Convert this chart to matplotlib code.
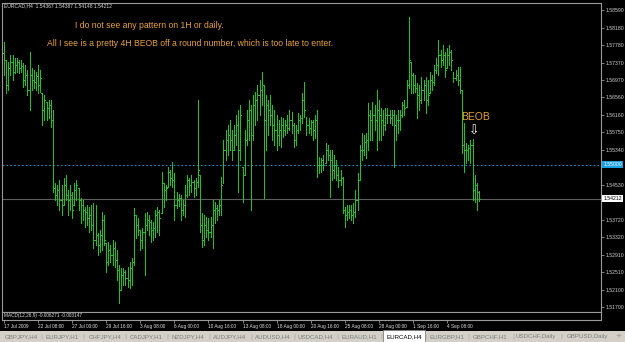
import numpy as np
import matplotlib.pyplot as plt
from matplotlib.patches import Rectangle

# EURCAD H4 bars
high = [1.5785, 1.5743, 1.5738, 1.5754, 1.5754, 1.5747, 1.5747, 1.5743, 1.5743, 1.5736,
        1.5731, 1.5720, 1.5761, 1.5724, 1.5720, 1.5715, 1.5731, 1.5720, 1.5666, 1.5662,
        1.5645, 1.5650, 1.5650, 1.5627, 1.5457, 1.5453, 1.5464, 1.5453, 1.5469, 1.5476,
        1.5441, 1.5453, 1.5437, 1.5457, 1.5464, 1.5446, 1.5423, 1.5418, 1.5402, 1.5406,
        1.5402, 1.5406, 1.5411, 1.5406, 1.5341, 1.5348, 1.5390, 1.5383, 1.5318, 1.5321,
        1.5314, 1.5325, 1.5321, 1.5302, 1.5267, 1.5260, 1.5260, 1.5256, 1.5263, 1.5274,
        1.5283, 1.5399, 1.5383, 1.5376, 1.5348, 1.5353, 1.5388, 1.5390, 1.5383, 1.5372,
        1.5367, 1.5395, 1.5402, 1.5395, 1.5483, 1.5457, 1.5453, 1.5495, 1.5488, 1.5506,
        1.5481, 1.5437, 1.5432, 1.5430, 1.5418, 1.5453, 1.5476, 1.5469, 1.5476, 1.5464,
        1.5469, 1.5650, 1.5476, 1.5388, 1.5383, 1.5379, 1.5376, 1.5379, 1.5418, 1.5413,
        1.5406, 1.5418, 1.5471, 1.5557, 1.5580, 1.5592, 1.5604, 1.5580, 1.5592, 1.5615,
        1.5627, 1.5638, 1.5495, 1.5580, 1.5627, 1.5650, 1.5638, 1.5662, 1.5669, 1.5685,
        1.5696, 1.5715, 1.5685, 1.5662, 1.5650, 1.5662, 1.5638, 1.5627, 1.5615, 1.5604,
        1.5611, 1.5608, 1.5604, 1.5615, 1.5627, 1.5622, 1.5597, 1.5592, 1.5620, 1.5615,
        1.5666, 1.5692, 1.5611, 1.5608, 1.5604, 1.5604, 1.5615, 1.5627, 1.5518, 1.5515,
        1.5522, 1.5550, 1.5546, 1.5534, 1.5534, 1.5522, 1.5511, 1.5495, 1.5488, 1.5471,
        1.5402, 1.5406, 1.5406, 1.5406, 1.5411, 1.5441, 1.5481, 1.5546, 1.5573, 1.5569,
        1.5573, 1.5643, 1.5627, 1.5645, 1.5638, 1.5673, 1.5650, 1.5631, 1.5627, 1.5631,
        1.5631, 1.5627, 1.5627, 1.5627, 1.5615, 1.5627, 1.5627, 1.5645, 1.5650, 1.5696,
        1.5843, 1.5738, 1.5713, 1.5708, 1.5689, 1.5685, 1.5703, 1.5696, 1.5703, 1.5696,
        1.5715, 1.5708, 1.5731, 1.5747, 1.5789, 1.5766, 1.5778, 1.5761, 1.5771, 1.5778,
        1.5766, 1.5715, 1.5720, 1.5727, 1.5727, 1.5673, 1.5597, 1.5550, 1.5546, 1.5557,
        1.5560, 1.5476, 1.5457, 1.54387]
low = [1.5708, 1.5666, 1.5673, 1.5708, 1.5696, 1.5713, 1.5715, 1.5713, 1.5715, 1.5680,
       1.5685, 1.5662, 1.5627, 1.5673, 1.5678, 1.5673, 1.5666, 1.5669, 1.5592, 1.5604,
       1.5604, 1.5608, 1.5587, 1.5437, 1.5418, 1.5406, 1.5395, 1.5383, 1.5406, 1.5418,
       1.5383, 1.5395, 1.5376, 1.5406, 1.5418, 1.5395, 1.5365, 1.5372, 1.5355, 1.5360,
       1.5344, 1.5348, 1.5307, 1.5314, 1.5290, 1.5297, 1.5302, 1.5314, 1.5251, 1.5267,
       1.5274, 1.5267, 1.5263, 1.5232, 1.5179, 1.5209, 1.5221, 1.5221, 1.5216, 1.5214,
       1.5221, 1.5267, 1.5330, 1.5337, 1.5302, 1.5307, 1.5244, 1.5348, 1.5337, 1.5321,
       1.5325, 1.5332, 1.5344, 1.5337, 1.5388, 1.5402, 1.5418, 1.5448, 1.5453, 1.5448,
       1.5372, 1.5399, 1.5404, 1.5372, 1.5383, 1.5379, 1.5425, 1.5430, 1.5437, 1.5425,
       1.5430, 1.5448, 1.5344, 1.5309, 1.5314, 1.5332, 1.5325, 1.5332, 1.5307, 1.5365,
       1.5372, 1.5383, 1.5383, 1.5457, 1.5511, 1.5522, 1.5534, 1.5511, 1.5534, 1.5546,
       1.5437, 1.5511, 1.5413, 1.5476, 1.5546, 1.5557, 1.5395, 1.5557, 1.5592, 1.5604,
       1.5615, 1.5638, 1.5423, 1.5534, 1.5569, 1.5592, 1.5557, 1.5546, 1.5534, 1.5546,
       1.5541, 1.5564, 1.5569, 1.5573, 1.5580, 1.5573, 1.5541, 1.5546, 1.5573, 1.5580,
       1.5597, 1.5611, 1.5569, 1.5573, 1.5569, 1.5557, 1.5562, 1.5471, 1.5481, 1.5483,
       1.5488, 1.5504, 1.5511, 1.5425, 1.5464, 1.5469, 1.5464, 1.5448, 1.5453, 1.5388,
       1.5355, 1.5372, 1.5376, 1.5372, 1.5365, 1.5379, 1.5395, 1.5464, 1.5511, 1.5522,
       1.5515, 1.5534, 1.5557, 1.5557, 1.5580, 1.5534, 1.5557, 1.5557, 1.5569, 1.5580,
       1.5597, 1.5597, 1.5592, 1.5495, 1.5557, 1.5573, 1.5580, 1.5611, 1.5615, 1.5634,
       1.5678, 1.5666, 1.5666, 1.5669, 1.5608, 1.5627, 1.5643, 1.5650, 1.5620, 1.5638,
       1.5666, 1.5673, 1.5685, 1.5713, 1.5708, 1.5727, 1.5731, 1.5703, 1.5724, 1.5731,
       1.5720, 1.5692, 1.5696, 1.5685, 1.5666, 1.5527, 1.5483, 1.5504, 1.5511, 1.5504,
       1.5418, 1.5413, 1.5395, 1.54148]
close = [1.5743, 1.5685, 1.5724, 1.5738, 1.5715, 1.5731, 1.5738, 1.5724, 1.5729, 1.5696,
         1.5708, 1.5673, 1.5708, 1.5696, 1.5692, 1.5706, 1.5685, 1.5701, 1.5627, 1.5650,
         1.5631, 1.5638, 1.5604, 1.5446, 1.5430, 1.5441, 1.5418, 1.5406, 1.5453, 1.5430,
         1.5418, 1.5430, 1.5395, 1.5441, 1.5453, 1.5418, 1.5406, 1.5395, 1.5390, 1.5376,
         1.5383, 1.5360, 1.5325, 1.5337, 1.5314, 1.5337, 1.5372, 1.5325, 1.5274, 1.5302,
         1.5290, 1.5307, 1.5279, 1.5256, 1.5209, 1.5244, 1.5251, 1.5237, 1.5232, 1.5260,
         1.5274, 1.5383, 1.5360, 1.5348, 1.5325, 1.5344, 1.5360, 1.5372, 1.5367, 1.5348,
         1.5353, 1.5383, 1.5390, 1.5376, 1.5464, 1.5441, 1.5446, 1.5483, 1.5469, 1.5464,
         1.5406, 1.5418, 1.5423, 1.5395, 1.5406, 1.5430, 1.5464, 1.5453, 1.5460, 1.5446,
         1.5460, 1.5488, 1.5360, 1.5325, 1.5360, 1.5348, 1.5344, 1.5360, 1.5395, 1.5399,
         1.5395, 1.5406, 1.5453, 1.5534, 1.5557, 1.5569, 1.5557, 1.5534, 1.5569, 1.5592,
         1.5534, 1.5615, 1.5464, 1.5557, 1.5604, 1.5627, 1.5569, 1.5638, 1.5650, 1.5662,
         1.5673, 1.5685, 1.5604, 1.5638, 1.5627, 1.5615, 1.5592, 1.5580, 1.5569, 1.5580,
         1.5592, 1.5580, 1.5592, 1.5585, 1.5604, 1.5592, 1.5557, 1.5580, 1.5604, 1.5608,
         1.5650, 1.5627, 1.5592, 1.5585, 1.5599, 1.5580, 1.5604, 1.5499, 1.5499, 1.5511,
         1.5499, 1.5534, 1.5522, 1.5511, 1.5488, 1.5499, 1.5476, 1.5464, 1.5469, 1.5395,
         1.5383, 1.5390, 1.5395, 1.5383, 1.5390, 1.5418, 1.5464, 1.5534, 1.5534, 1.5553,
         1.5557, 1.5615, 1.5604, 1.5615, 1.5604, 1.5627, 1.5615, 1.5604, 1.5592, 1.5615,
         1.5615, 1.5608, 1.5615, 1.5592, 1.5604, 1.5604, 1.5615, 1.5638, 1.5631, 1.5685,
         1.5743, 1.5708, 1.5685, 1.5678, 1.5662, 1.5650, 1.5673, 1.5685, 1.5650, 1.5662,
         1.5696, 1.5692, 1.5720, 1.5731, 1.5754, 1.5743, 1.5754, 1.5720, 1.5754, 1.5761,
         1.5743, 1.5701, 1.5708, 1.5696, 1.5673, 1.5546, 1.5534, 1.5534, 1.5539, 1.5546,
         1.5441, 1.5453, 1.5437, 1.54212]
first_open = 1.5760

price_ticks = [1.5859, 1.5818, 1.5778, 1.5737, 1.5697, 1.5656, 1.5616, 1.5575, 1.5534,
               1.5453, 1.5372, 1.5332, 1.5291, 1.5251, 1.5210, 1.5170]
price_labels = ["1.58590", "1.58180", "1.57780", "1.57370", "1.56970", "1.56560", "1.56160",
                "1.55750", "1.55340", "1.54530", "1.53720", "1.53320", "1.52910", "1.52510",
                "1.52100", "1.51700"]
time_labels = ["17 Jul 2009", "22 Jul 08:00", "27 Jul 00:00", "29 Jul 16:00", "3 Aug 08:00",
               "6 Aug 00:00", "10 Aug 16:00", "13 Aug 08:00", "18 Aug 00:00", "20 Aug 16:00",
               "25 Aug 08:00", "28 Aug 00:00", "1 Sep 16:00", "4 Sep 08:00"]
tabs = ["GBPJPY,H4", "EURJPY,H1", "CHFJPY,H4", "CADJPY,H1", "NZDJPY,H4", "AUDJPY,H4",
        "AUDUSD,H4", "USDCAD,H4", "EURAUD,H1", "EURCAD,H4", "EURGBP,H1", "GBPCHF,H1",
        "USDCHF,Daily", "GBPUSD,Daily"]
tab_x = [21, 62, 105, 146, 188, 230, 273, 315, 359, 404, 447, 490, 536, 587]
active_tab = "EURCAD,H4"
round_level = 1.5500
bid = 1.54212

FONT = ['Liberation Sans', 'DejaVu Sans']
W, H = 625, 342
green = '#22c022'
orange = '#e8a23a'

high = np.array(high)
low = np.array(low)
close = np.array(close)
opn = np.clip(np.r_[first_open, close[:-1]], low, high)
idx = np.arange(len(close))
xlim = (-0.94, 280.3)

fig = plt.figure(figsize=(6.25, 3.42), dpi=100, facecolor='black')

ax = fig.add_axes([2 / W, 30 / H, 599 / W, 309 / H])
ax.set_facecolor('black')
ax.set_ylim(1.51584, 1.58752)
ax.set_xlim(*xlim)

ax.axhline(round_level, color='#1f8fbf', lw=0.8, ls=(0, (1.5, 2)))
ax.axhline(bid, color='#5e5e5e', lw=0.8)

ax.vlines(idx, low, high, color=green, lw=0.5, antialiased=False)
ax.hlines(opn, idx - 0.4, idx, color=green, lw=0.5, antialiased=False)
ax.hlines(close, idx, idx + 0.4, color=green, lw=0.5, antialiased=False)

for s in ax.spines.values():
    s.set_color('#9a9a9a')
    s.set_linewidth(0.8)
ax.set_xticks([])
ax.yaxis.tick_right()
ax.set_yticks(price_ticks, price_labels)
ax.tick_params(axis='y', colors='#9a9a9a', labelcolor='#d0d0d0', length=2, width=0.6,
               pad=1, labelsize=3.7)
for t in ax.get_yticklabels():
    t.set_family(FONT)

# price boxes on the scale
ax.text(1.004, round_level, "1.55000", transform=ax.get_yaxis_transform(), va='center',
        ha='left', fontsize=3.7, family=FONT, color='white',
        bbox=dict(boxstyle='square,pad=0.2', fc='#1aa0e0', ec='none'))
ax.text(1.004, bid, "1.54212", transform=ax.get_yaxis_transform(), va='center',
        ha='left', fontsize=3.7, family=FONT, color='black',
        bbox=dict(boxstyle='square,pad=0.2', fc='white', ec='none'))

# indicator window
ax2 = fig.add_axes([2 / W, 22 / H, 599 / W, 8 / H])
ax2.set_facecolor('black')
ax2.set_xlim(*xlim)
for s in ax2.spines.values():
    s.set_color('#9a9a9a')
    s.set_linewidth(0.8)
ax2.set_yticks([])
ax2.set_xticks(range(0, 16 * len(time_labels), 16), time_labels)
ax2.tick_params(axis='x', colors='#9a9a9a', labelcolor='#e0e0e0', length=2, width=0.6,
                pad=1, labelsize=3.4)
for t in ax2.get_xticklabels():
    t.set_family(FONT)
    t.set_ha('left')
ax2.text(0.004, 0.5, "MACD(12,26,9) -0.006271 -0.003147", transform=ax2.transAxes,
         va='center', ha='left', fontsize=3.4, family=FONT, color='#e0e0e0')

# header and comments
fig.text(4 / W, 1 - 6 / H, "EURCAD,H4  1.54367 1.54387 1.54148 1.54212", fontsize=3.6,
         family=FONT, color='#d8d8d8', va='center', ha='left')
fig.text(149 / W, 1 - 26 / H, "I do not see any pattern on 1H or daily.", fontsize=6.2,
         family=FONT, color=orange, va='center', ha='center')
fig.text(47 / W, 1 - 43 / H,
         "All I see is a pretty 4H BEOB off a round number, which is too late to enter.",
         fontsize=6.2, family=FONT, color=orange, va='center', ha='left')
fig.text(475 / W, 1 - 117 / H, "BEOB", fontsize=7.5, family=FONT, color=orange,
         va='center', ha='center')
fig.text(474 / W, 1 - 131 / H, "\u21e9", fontsize=9, family='DejaVu Sans', color='white',
         va='center', ha='center')

# tab strip
fig.patches.append(Rectangle((0, 0), 1, 11 / H, transform=fig.transFigure,
                             fc='#d4d0c8', ec='none', zorder=0))
for name, x in zip(tabs, tab_x):
    if name == active_tab:
        fig.patches.append(Rectangle((383 / W, 0), 42 / W, 12 / H, transform=fig.transFigure,
                                     fc='white', ec='#808080', lw=0.6, zorder=1))
    fig.text(x / W, 5.5 / H, name, fontsize=4.4, family=FONT, va='center', ha='center',
             color='black' if name == active_tab else '#7a7a7a', zorder=2)
for a, b in zip(tab_x[:-1], tab_x[1:]):
    fig.text((a + b) / 2 / W, 5.5 / H, "|", fontsize=4.5, color='#a0a0a0', va='center',
             ha='center')
fig.text(618 / W, 5.5 / H, "+", fontsize=5, color='#909090', va='center', ha='center')

plt.savefig('out.png', dpi=100, facecolor='black')
